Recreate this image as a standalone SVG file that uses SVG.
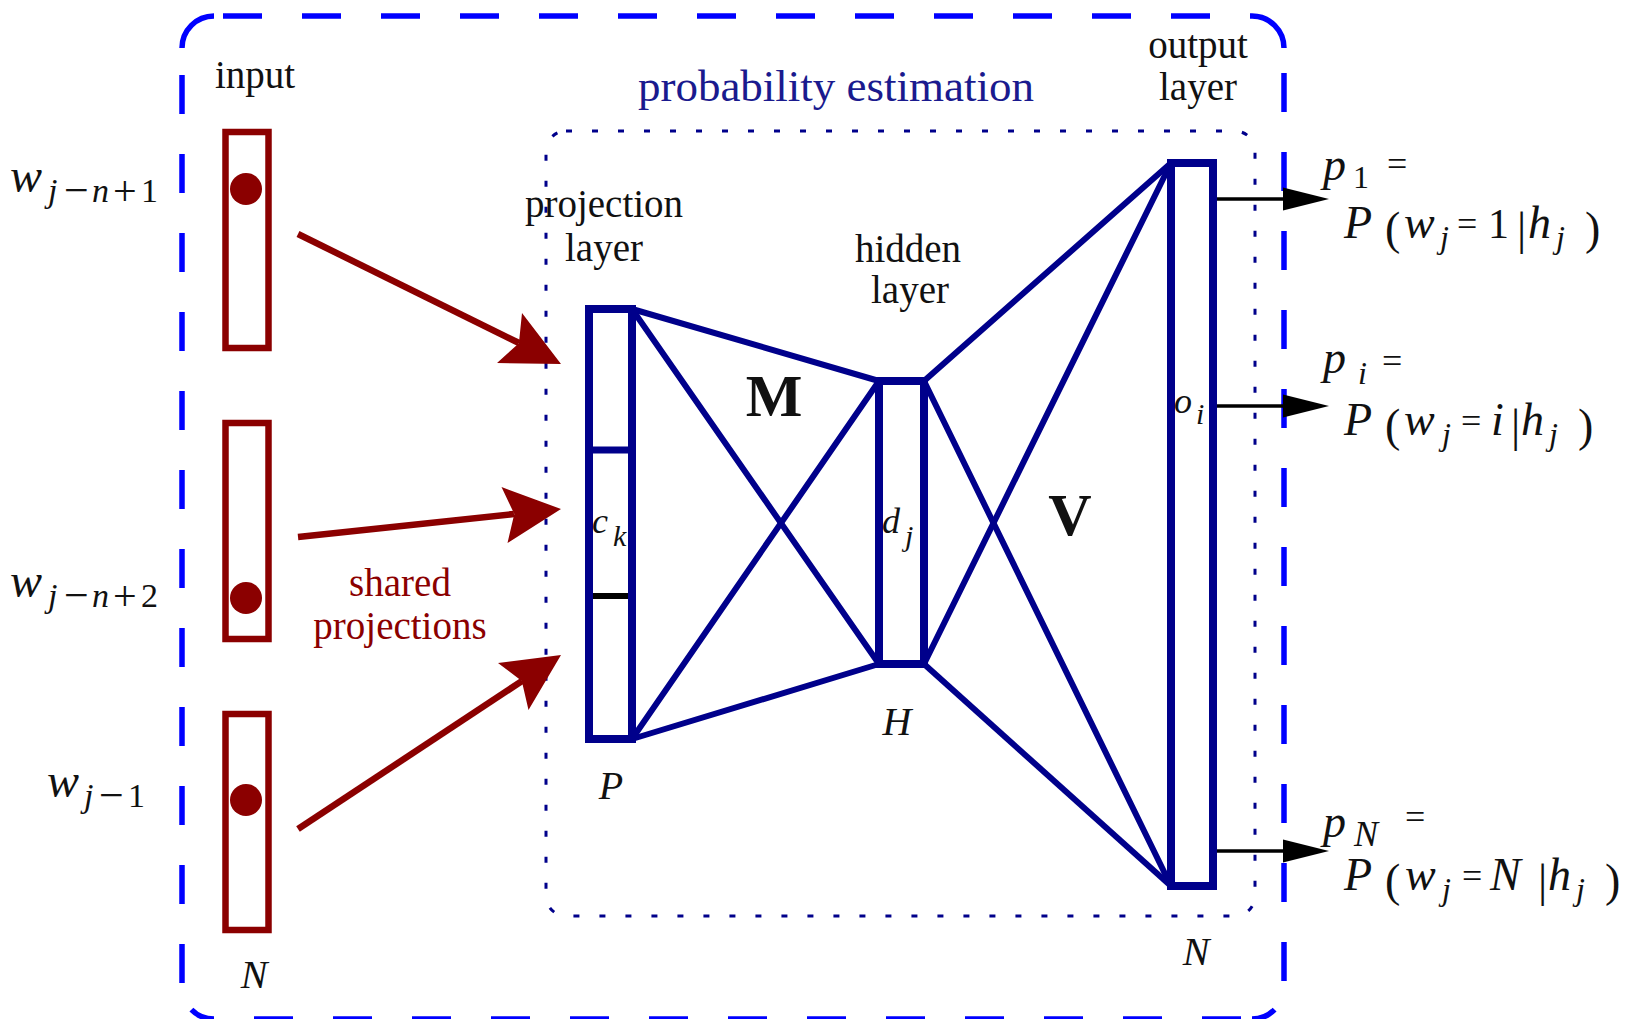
<svg xmlns="http://www.w3.org/2000/svg" width="1630" height="1019" viewBox="0 0 1630 1019">
<style>
.t{font-family:"Liberation Serif",serif;font-size:39px;fill:#111}
.pe{font-family:"Liberation Serif",serif;font-size:45px;fill:#1a1a8e}
.sp{font-family:"Liberation Serif",serif;font-size:39px;fill:#8b0000}
.m{font-family:"Liberation Serif",serif;fill:#111}
.i{font-style:italic}
.bold{font-family:"Liberation Serif",serif;font-weight:bold;fill:#111}
.outer{fill:none;stroke:#0000ff;stroke-width:5.5}
.od{stroke-dasharray:39 40}
.dot{fill:none;stroke:#00008b;stroke-width:3;stroke-dasharray:6 20}
.inbox{fill:#fff;stroke:#8b0000;stroke-width:6.5}
.nbox{fill:none;stroke:#00008b;stroke-width:8}
.nl{stroke:#00008b;stroke-width:6;fill:none;stroke-linecap:round}
.ra{stroke:#8b0000;stroke-width:6.5;fill:none}
.rh{fill:#8b0000}
.ba{stroke:#000;stroke-width:3.5;fill:none}
.bh{fill:#000}
</style>

<g id="outer-frame">
  <path class="outer" d="M182,48 A32,32 0 0 1 214,16"/>
  <path class="outer" d="M1252,16 A32,32 0 0 1 1284,48"/>
  <path class="outer" d="M1274.6,1009.6 A32,32 0 0 1 1252,1019"/>
  <path class="outer" d="M214,1019 A32,32 0 0 1 191.4,1009.6"/>
  <line class="outer od" x1="223" y1="16" x2="1252" y2="16"/>
  <line class="outer od" x1="182" y1="75" x2="182" y2="985"/>
  <line class="outer od" x1="1284" y1="73" x2="1284" y2="985"/>
  <line class="outer od" x1="254" y1="1019" x2="1252" y2="1019"/>
</g>

<g id="prob-frame">
  <rect class="dot" x="546" y="131" width="709" height="785" rx="20" ry="20"/>
  <text class="pe" x="836" y="101" text-anchor="middle">probability estimation</text>
</g>

<g id="input-label">
  <text class="t" x="255" y="88" text-anchor="middle">input</text>
</g>

<g id="input1">
  <rect class="inbox" x="225.5" y="132" width="43" height="216"/>
  <circle class="rh" cx="246" cy="189" r="16"/>
  <text class="m"><tspan class="i" x="10" y="192" font-size="48">w</tspan><tspan class="i" x="48" y="202" font-size="34">j</tspan><tspan x="64" y="205" font-size="44">−</tspan><tspan class="i" x="92" y="202" font-size="34">n</tspan><tspan x="113" y="205" font-size="42">+</tspan><tspan x="141" y="202" font-size="34">1</tspan></text>
</g>

<g id="input2">
  <rect class="inbox" x="225.5" y="423" width="43" height="216"/>
  <circle class="rh" cx="246" cy="598" r="16"/>
  <text class="m"><tspan class="i" x="10" y="597" font-size="48">w</tspan><tspan class="i" x="48" y="607" font-size="34">j</tspan><tspan x="64" y="610" font-size="44">−</tspan><tspan class="i" x="92" y="607" font-size="34">n</tspan><tspan x="113" y="610" font-size="42">+</tspan><tspan x="141" y="607" font-size="34">2</tspan></text>
</g>

<g id="input3">
  <rect class="inbox" x="225.5" y="714" width="43" height="216"/>
  <circle class="rh" cx="246" cy="800" r="16"/>
  <text class="m"><tspan class="i" x="47" y="797" font-size="48">w</tspan><tspan class="i" x="84" y="807" font-size="34">j</tspan><tspan x="99" y="810" font-size="44">−</tspan><tspan x="128" y="807" font-size="34">1</tspan></text>
  <text class="m i" x="254" y="988" font-size="40" text-anchor="middle">N</text>
</g>

<g id="shared-label">
  <text class="sp" x="400" y="596" text-anchor="middle">shared</text>
  <text class="sp" x="400" y="639" text-anchor="middle">projections</text>
</g>

<g id="connectors">
  <line class="ra" x1="298" y1="234" x2="519" y2="343"/>
  <polygon class="rh" points="561,364 497,363 518.9,343.2 522,313"/>
  <line class="ra" x1="298" y1="537" x2="514" y2="514"/>
  <polygon class="rh" points="561,509 507.5,543 514.3,514 501.5,487"/>
  <line class="ra" x1="298" y1="829" x2="522" y2="681"/>
  <polygon class="rh" points="561,655 528.5,710 521.8,680.9 498,663"/>

  <line class="nl" x1="632" y1="309" x2="879" y2="381"/>
  <line class="nl" x1="632" y1="309" x2="879" y2="664"/>
  <line class="nl" x1="632" y1="739" x2="879" y2="381"/>
  <line class="nl" x1="632" y1="739" x2="879" y2="664"/>
  <line class="nl" x1="924" y1="381" x2="1171" y2="163"/>
  <line class="nl" x1="924" y1="381" x2="1171" y2="886"/>
  <line class="nl" x1="924" y1="664" x2="1171" y2="163"/>
  <line class="nl" x1="924" y1="664" x2="1171" y2="886"/>

  <line class="ba" x1="1217" y1="199" x2="1286" y2="199"/>
  <polygon class="bh" points="1329,199 1283,187.5 1283,210.5"/>
  <line class="ba" x1="1217" y1="406" x2="1286" y2="406"/>
  <polygon class="bh" points="1329,406 1283,394.5 1283,417.5"/>
  <line class="ba" x1="1217" y1="851" x2="1286" y2="851"/>
  <polygon class="bh" points="1329,851 1283,839.5 1283,862.5"/>
</g>

<g id="projection-layer">
  <text class="t" x="604" y="217" text-anchor="middle">projection</text>
  <text class="t" x="604" y="261" text-anchor="middle">layer</text>
  <rect class="nbox" x="589" y="309" width="43" height="430"/>
  <line stroke="#00008b" stroke-width="7" x1="593" y1="450" x2="628" y2="450"/>
  <line stroke="#000" stroke-width="6" x1="593" y1="596" x2="628" y2="596"/>
  <text class="m"><tspan class="i" x="592" y="533" font-size="36">c</tspan><tspan class="i" x="613" y="546" font-size="30">k</tspan></text>
  <text class="m i" x="611" y="799" font-size="40" text-anchor="middle">P</text>
</g>

<g id="hidden-layer">
  <text class="t" x="908" y="262" text-anchor="middle">hidden</text>
  <text class="t" x="910" y="303" text-anchor="middle">layer</text>
  <rect class="nbox" x="879" y="381" width="45" height="283"/>
  <text class="m"><tspan class="i" x="882" y="533" font-size="36">d</tspan><tspan class="i" x="905" y="546" font-size="30">j</tspan></text>
  <text class="m i" x="897" y="735" font-size="40" text-anchor="middle">H</text>
</g>

<g id="weights">
  <text class="bold" x="774" y="416" font-size="60" text-anchor="middle">M</text>
  <text class="bold" x="1070" y="535" font-size="60" text-anchor="middle">V</text>
</g>

<g id="output-layer">
  <text class="t" x="1198" y="58" text-anchor="middle">output</text>
  <text class="t" x="1198" y="100" text-anchor="middle">layer</text>
  <rect class="nbox" x="1171" y="163" width="42" height="723"/>
  <text class="m"><tspan class="i" x="1174" y="413" font-size="36">o</tspan><tspan class="i" x="1196" y="424" font-size="30">i</tspan></text>
  <text class="m i" x="1196" y="965" font-size="40" text-anchor="middle">N</text>
</g>

<g id="out-p1">
  <text class="m"><tspan class="i" x="1323" y="180" font-size="46">p</tspan><tspan x="1353" y="188" font-size="32">1</tspan><tspan x="1387" y="176" font-size="36">=</tspan></text>
  <text class="m"><tspan class="i" x="1344" y="238" font-size="46">P</tspan><tspan x="1385" y="244" font-size="46">(</tspan><tspan class="i" x="1404" y="238" font-size="46">w</tspan><tspan class="i" x="1440" y="248" font-size="32">j</tspan><tspan x="1457" y="236" font-size="36">=</tspan><tspan x="1488" y="238" font-size="42">1</tspan><tspan x="1517" y="244" font-size="46">|</tspan><tspan class="i" x="1528" y="238" font-size="46">h</tspan><tspan class="i" x="1556" y="248" font-size="32">j</tspan><tspan x="1585" y="244" font-size="46">)</tspan></text>
</g>

<g id="out-pi">
  <text class="m"><tspan class="i" x="1323" y="373" font-size="46">p</tspan><tspan class="i" x="1358" y="384" font-size="32">i</tspan><tspan x="1382" y="373" font-size="36">=</tspan></text>
  <text class="m"><tspan class="i" x="1344" y="435" font-size="46">P</tspan><tspan x="1385" y="441" font-size="46">(</tspan><tspan class="i" x="1404" y="435" font-size="46">w</tspan><tspan class="i" x="1442" y="445" font-size="32">j</tspan><tspan x="1461" y="433" font-size="36">=</tspan><tspan class="i" x="1491" y="435" font-size="46">i</tspan><tspan x="1511" y="441" font-size="46">|</tspan><tspan class="i" x="1521" y="435" font-size="46">h</tspan><tspan class="i" x="1549" y="445" font-size="32">j</tspan><tspan x="1578" y="441" font-size="46">)</tspan></text>
</g>

<g id="out-pN">
  <text class="m"><tspan class="i" x="1323" y="837" font-size="46">p</tspan><tspan class="i" x="1354" y="846" font-size="36">N</tspan><tspan x="1405" y="829" font-size="36">=</tspan></text>
  <text class="m"><tspan class="i" x="1344" y="890" font-size="46">P</tspan><tspan x="1385" y="896" font-size="46">(</tspan><tspan class="i" x="1405" y="890" font-size="46">w</tspan><tspan class="i" x="1442" y="900" font-size="32">j</tspan><tspan x="1462" y="888" font-size="36">=</tspan><tspan class="i" x="1490" y="890" font-size="46">N</tspan><tspan x="1538" y="896" font-size="46">|</tspan><tspan class="i" x="1548" y="890" font-size="46">h</tspan><tspan class="i" x="1576" y="900" font-size="32">j</tspan><tspan x="1605" y="896" font-size="46">)</tspan></text>
</g>
</svg>
